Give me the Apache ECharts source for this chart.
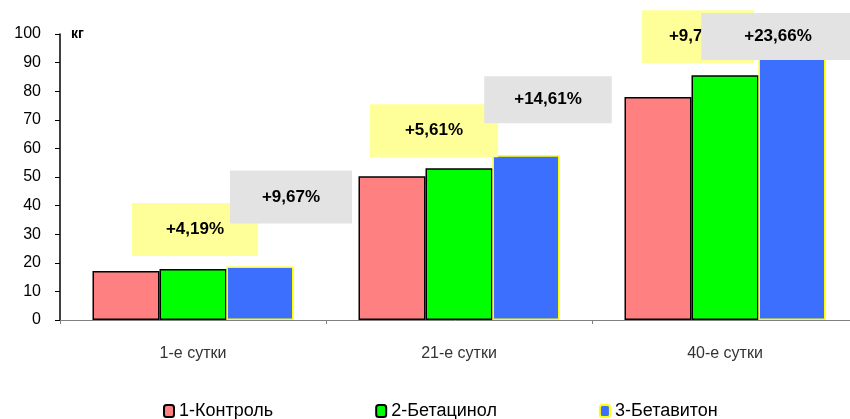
<!DOCTYPE html>
<html>
<head>
<meta charset="utf-8">
<script src="https://cdn.jsdelivr.net/npm/echarts@6/dist/echarts.min.js"></script>
<style>
  html, body { margin: 0; padding: 0; background: #fff; }
  #chart { width: 850px; height: 419px; }
</style>
</head>
<body>
<div id="chart"></div>
<script>
// данные
var categories = ["1-е сутки", "21-е сутки", "40-е сутки"];
var seriesNames = ["1-Контроль", "2-Бетацинол", "3-Бетавитон"];
var control = [17.1, 50.3, 78.0];
var betacinol = [17.8, 53.1, 85.6];
var betaviton = [18.75, 57.6, 96.5];
var betacinolGain = ["+4,19%", "+5,61%", "+9,74%"];
var betavitonGain = ["+9,67%", "+14,61%", "+23,66%"];
var yTicks = [0, 10, 20, 30, 40, 50, 60, 70, 80, 90, 100];

// положение подписей (смещения от верха столбца) и отступы плашек
var yellowOffsets = [[2, -13], [-25, -11], [-27, -12]];
var yellowPadding = [[18, 34], [18, 35], [18, 27]];
var grayOffsets = [[31, -43], [22, -32], [-14, 16]];
var grayPadding = [[18, 32], [15, 30], [15, 43]];

var font = "Arial, 'Liberation Sans', sans-serif";

function gainData(values, texts, offsets, bg, paddings) {
  return values.map(function (v, i) {
    return {
      value: v,
      label: {
        show: true,
        position: "top",
        distance: 0,
        formatter: texts[i],
        offset: offsets[i],
        backgroundColor: bg,
        padding: paddings[i],
        color: "#000",
        fontFamily: font,
        fontWeight: "bold",
        fontSize: 17,
        lineHeight: 17
      }
    };
  });
}

var chart = echarts.init(document.getElementById("chart"));
var option = {
  animation: false,
  textStyle: { fontFamily: font },
  grid: { left: 60, top: 34, width: 798, height: 286, outerBoundsMode: "none" },
  legend: {
    top: 397,
    left: 158,
    itemGap: 102,
    itemWidth: 10,
    itemHeight: 12,
    textStyle: { fontFamily: font, fontSize: 18, color: "#000" },
    data: seriesNames
  },
  xAxis: {
    type: "category",
    data: categories,
    axisLine: { lineStyle: { color: "#808080", width: 1 } },
    axisTick: { show: true, length: 4, lineStyle: { color: "#808080" } },
    axisLabel: { margin: 26, fontSize: 16, color: "#333", fontFamily: font }
  },
  yAxis: {
    type: "value",
    min: yTicks[0],
    max: yTicks[yTicks.length - 1],
    interval: 10,
    name: "кг",
    nameLocation: "end",
    nameGap: 0,
    nameTextStyle: {
      align: "left",
      verticalAlign: "middle",
      padding: [0, 0, 12, 11],
      fontWeight: "bold",
      fontSize: 14,
      color: "#000",
      fontFamily: font
    },
    splitLine: { show: false },
    axisLine: { show: true, lineStyle: { color: "#000", width: 1.5 } },
    axisTick: { show: true, inside: false, length: 5, lineStyle: { color: "#000" } },
    axisLabel: { fontSize: 16, color: "#000", margin: 19, fontFamily: font }
  },
  series: [
    {
      name: seriesNames[0],
      type: "bar",
      barWidth: 67,
      barGap: "0%",
      itemStyle: { color: "#ff8080", borderColor: "#000", borderWidth: 1.5 },
      data: control
    },
    {
      name: seriesNames[1],
      type: "bar",
      barWidth: 67,
      barGap: "0%",
      itemStyle: { color: "#00ff00", borderColor: "#000", borderWidth: 1.5 },
      data: gainData(betacinol, betacinolGain, yellowOffsets, "#ffff99", yellowPadding)
    },
    {
      name: seriesNames[2],
      type: "bar",
      barWidth: 67,
      barGap: "0%",
      itemStyle: { color: "#3d6fff", borderColor: "#ffff00", borderWidth: 1.5 },
      data: gainData(betaviton, betavitonGain, grayOffsets, "#e3e3e3", grayPadding)
    }
  ]
};
chart.setOption(option);
</script>
</body>
</html>
